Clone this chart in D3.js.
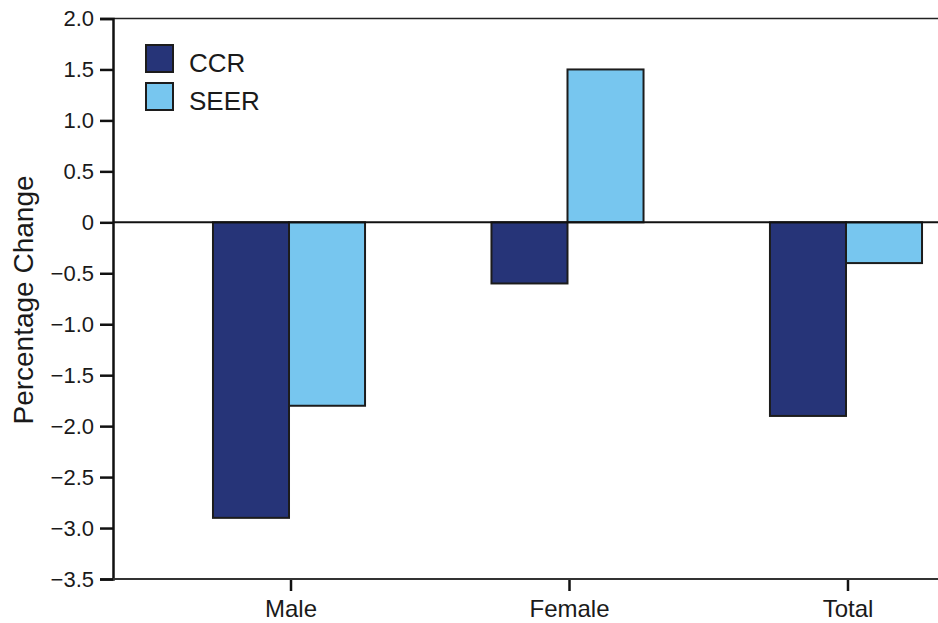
<!DOCTYPE html>
<html>
<head>
<meta charset="utf-8">
<script src="https://cdn.jsdelivr.net/npm/d3@7"></script>
<style>
  body { margin: 0; background: #fff; }
  svg { display: block; font-family: "Liberation Sans", Arial, sans-serif; }
</style>
</head>
<body>
<svg id="chart" width="938" height="623"></svg>
<script>
// data
const groups = ["Male", "Female", "Total"];
const seriesNames = ["CCR", "SEER"];
const ccrValues = [-2.9, -0.6, -1.9];
const seerValues = [-1.8, 1.5, -0.4];
const yTicks = [2.0, 1.5, 1.0, 0.5, 0, -0.5, -1.0, -1.5, -2.0, -2.5, -3.0, -3.5];
const colors = ["#263478", "#77c6ef"];

const rows = groups.map((g, i) => ({ group: g, values: [ccrValues[i], seerValues[i]] }));

const svg = d3.select("#chart");
const plotLeft = 113, plotTop = 18.5, plotBottom = 579;

const y = d3.scaleLinear().domain([-3.5, 2]).range([plotBottom, plotTop]);

const x = d3.scaleBand()
  .domain(groups)
  .range([plotLeft, 1022])
  .paddingInner(0.454)
  .paddingOuter(0.359);

const xs = d3.scaleBand().domain(seriesNames).range([0, x.bandwidth()]);

/* ------- BARS -------*/
const g = svg.append("g").attr("class", "bars");
g.selectAll("g.group")
  .data(rows)
  .join("g")
  .attr("class", "group")
  .attr("transform", d => "translate(" + x(d.group) + ",0)")
  .selectAll("rect")
  .data(d => d.values.map((v, i) => ({ series: seriesNames[i], value: v, color: colors[i] })))
  .join("rect")
  .attr("x", d => xs(d.series))
  .attr("width", xs.bandwidth())
  .attr("y", d => y(Math.max(0, d.value)))
  .attr("height", d => Math.abs(y(d.value) - y(0)))
  .attr("fill", d => d.color)
  .attr("stroke", "#1c1c1c")
  .attr("stroke-width", 2);

/* ------- LINES -------*/
svg.append("line")
  .attr("x1", plotLeft).attr("x2", 938)
  .attr("y1", y(2)).attr("y2", y(2))
  .attr("stroke", "#222").attr("stroke-width", 1.5);

svg.append("line")
  .attr("x1", plotLeft).attr("x2", 938)
  .attr("y1", y(0)).attr("y2", y(0))
  .attr("stroke", "#111").attr("stroke-width", 2);

/* ------- AXES -------*/
const yAxis = svg.append("g")
  .attr("transform", "translate(" + plotLeft + ",0)")
  .call(d3.axisLeft(y)
    .tickValues(yTicks)
    .tickSize(13)
    .tickPadding(6)
    .tickFormat(d => d === 0 ? "0" : d3.format(".1f")(d)));
yAxis.select(".domain").attr("stroke", "#111").attr("stroke-width", 2.5);
yAxis.selectAll(".tick line").attr("stroke", "#111").attr("stroke-width", 2.5);
yAxis.selectAll(".tick text")
  .attr("fill", "#1a1a1a")
  .style("font-size", "22px");

const xAxis = svg.append("g")
  .attr("transform", "translate(0," + plotBottom + ")")
  .call(d3.axisBottom(x).tickSize(12).tickPadding(9));
xAxis.select(".domain").remove();
xAxis.selectAll(".tick").attr("transform", d => "translate(" + (x(d) + x.bandwidth() / 2 + 2) + ",0)");
xAxis.selectAll(".tick line").attr("stroke", "#111").attr("stroke-width", 2.5);
xAxis.selectAll(".tick text")
  .attr("fill", "#1a1a1a")
  .style("font-size", "24px");

svg.append("line")
  .attr("x1", plotLeft).attr("x2", 938)
  .attr("y1", plotBottom).attr("y2", plotBottom)
  .attr("stroke", "#333").attr("stroke-width", 2);

/* ------- AXIS TITLE -------*/
svg.append("text")
  .attr("transform", "translate(33,300) rotate(-90)")
  .attr("text-anchor", "middle")
  .attr("fill", "#1a1a1a")
  .style("font-size", "28px")
  .text("Percentage Change");

/* ------- LEGEND -------*/
const legend = svg.append("g")
  .selectAll("g")
  .data(seriesNames)
  .join("g")
  .attr("transform", (d, i) => "translate(146," + (45 + i * 38) + ")");

legend.append("rect")
  .attr("width", 27).attr("height", 27)
  .attr("fill", (d, i) => colors[i])
  .attr("stroke", "#1c1c1c").attr("stroke-width", 2);

legend.append("text")
  .attr("x", 43).attr("y", 27)
  .attr("fill", "#1a1a1a")
  .style("font-size", "26px")
  .text(d => d);
</script>
</body>
</html>
